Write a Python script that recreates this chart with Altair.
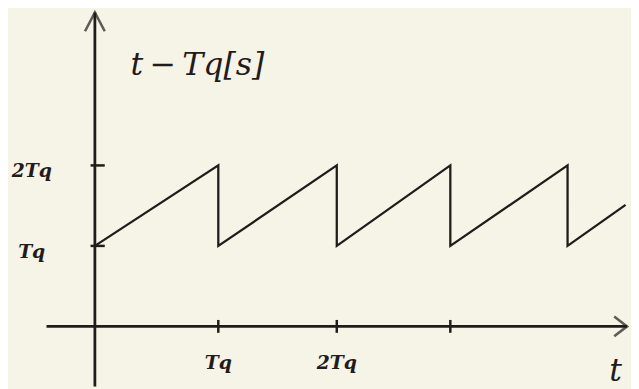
import altair as alt
import pandas as pd

# ---- data (time in units of Tq, value in units of Tq) ----
saw_t = [0.0, 1.0, 1.0, 1.96, 1.96, 2.88, 2.88, 3.83, 3.83, 4.30]
saw_y = [1.0, 2.0, 1.0, 2.0, 1.0, 2.0, 1.0, 2.0, 1.0, 1.51]

x_tick_values = [1.0, 1.96, 2.88]
x_tick_labels = ["Tq", "2Tq", ""]
y_tick_values = [1.0, 2.0]
y_tick_labels = ["Tq", "2Tq"]

title_text = "t\u2009\u2212\u2009Tq[s]"
x_axis_name = "t"

# ---- layout constants ----
X_DOMAIN = [-0.704, 4.344]
Y_DOMAIN = [-0.748, 3.926]
X_AXIS_START, X_AXIS_END = -0.392, 4.312
Y_AXIS_BOTTOM, Y_AXIS_TOP = -0.748, 3.90
INK = "#231b1b"
BG = "#f5f4e7"

xs = alt.Scale(domain=X_DOMAIN, nice=False, zero=False)
ys = alt.Scale(domain=Y_DOMAIN, nice=False, zero=False)

saw = pd.DataFrame({"t": saw_t, "y": saw_y, "i": range(len(saw_t))})
xt = pd.DataFrame({"t": x_tick_values, "label": x_tick_labels})
yt = pd.DataFrame({"y": y_tick_values, "label": y_tick_labels})

axes_df = pd.DataFrame({
    "x": [X_AXIS_START, 0.0], "x2": [X_AXIS_END, 0.0],
    "y": [0.0, Y_AXIS_BOTTOM], "y2": [0.0, Y_AXIS_TOP],
})
axes = alt.Chart(axes_df).mark_rule(color=INK, strokeWidth=2.8).encode(
    x=alt.X("x:Q", scale=xs, axis=None), x2="x2:Q",
    y=alt.Y("y:Q", scale=ys, axis=None), y2="y2:Q",
)

x_arrow = alt.Chart(pd.DataFrame({"x": [X_AXIS_END], "y": [0.0]})).mark_point(
    shape="M-1.3,-1L0,0L-1.3,1", size=400, filled=False, stroke=INK, strokeWidth=2.6
).encode(x=alt.X("x:Q", scale=xs, axis=None), y=alt.Y("y:Q", scale=ys, axis=None))

y_arrow = alt.Chart(pd.DataFrame({"x": [0.0], "y": [Y_AXIS_TOP]})).mark_point(
    shape="M-1,1.9L0,0L1,1.9", size=400, filled=False, stroke=INK, strokeWidth=2.6
).encode(x=alt.X("x:Q", scale=xs, axis=None), y=alt.Y("y:Q", scale=ys, axis=None))

x_ticks = alt.Chart(xt).mark_rule(color=INK, strokeWidth=2.5).encode(
    x=alt.X("t:Q", scale=xs, axis=None),
    y=alt.Y("lo:Q", scale=ys, axis=None), y2="hi:Q",
).transform_calculate(lo="-0.08", hi="0.08")

y_ticks = alt.Chart(yt).mark_rule(color=INK, strokeWidth=2.5).encode(
    y=alt.Y("y:Q", scale=ys, axis=None),
    x=alt.X("lo:Q", scale=xs, axis=None), x2="hi:Q",
).transform_calculate(lo="-0.035", hi="0.08")

label_font = dict(font="DejaVu Serif", fontStyle="italic", fontWeight="bold",
                  fontSize=19, color=INK)

x_labels = alt.Chart(xt).mark_text(baseline="middle", align="center", dy=37,
                                   **label_font).encode(
    x=alt.X("t:Q", scale=xs, axis=None),
    y=alt.Y("zero:Q", scale=ys, axis=None),
    text="label:N",
).transform_calculate(zero="0")

y_labels = alt.Chart(yt).mark_text(baseline="middle", align="center", dx=-64, dy=6,
                                   **label_font).encode(
    y=alt.Y("y:Q", scale=ys, axis=None),
    x=alt.X("zero:Q", scale=xs, axis=None),
    text="label:N",
).transform_calculate(zero="0")

line = alt.Chart(saw).mark_line(color=INK, strokeWidth=2.3, strokeJoin="miter").encode(
    x=alt.X("t:Q", scale=xs, axis=None),
    y=alt.Y("y:Q", scale=ys, axis=None),
    order="i:Q",
)

title = alt.Chart(pd.DataFrame({"x": [0.288], "y": [3.129], "s": [title_text]})).mark_text(
    align="left", baseline="alphabetic", font="DejaVu Serif", fontStyle="italic",
    fontSize=32, color=INK
).encode(x=alt.X("x:Q", scale=xs, axis=None), y=alt.Y("y:Q", scale=ys, axis=None), text="s:N")

tname = alt.Chart(pd.DataFrame({"x": [4.22], "y": [-0.675], "s": [x_axis_name]})).mark_text(
    align="center", baseline="alphabetic", font="DejaVu Serif", fontStyle="italic",
    fontSize=32, color=INK
).encode(x=alt.X("x:Q", scale=xs, axis=None), y=alt.Y("y:Q", scale=ys, axis=None), text="s:N")

chart = alt.layer(
    axes, x_arrow, y_arrow, x_ticks, y_ticks, line, x_labels, y_labels, title, tname
).properties(
    width=631, height=381, background=BG, padding=0,
    autosize=alt.AutoSizeParams(type="none"),
).configure_view(stroke=None)

chart.save("out.html", embed_options={"renderer": "svg", "actions": False})
